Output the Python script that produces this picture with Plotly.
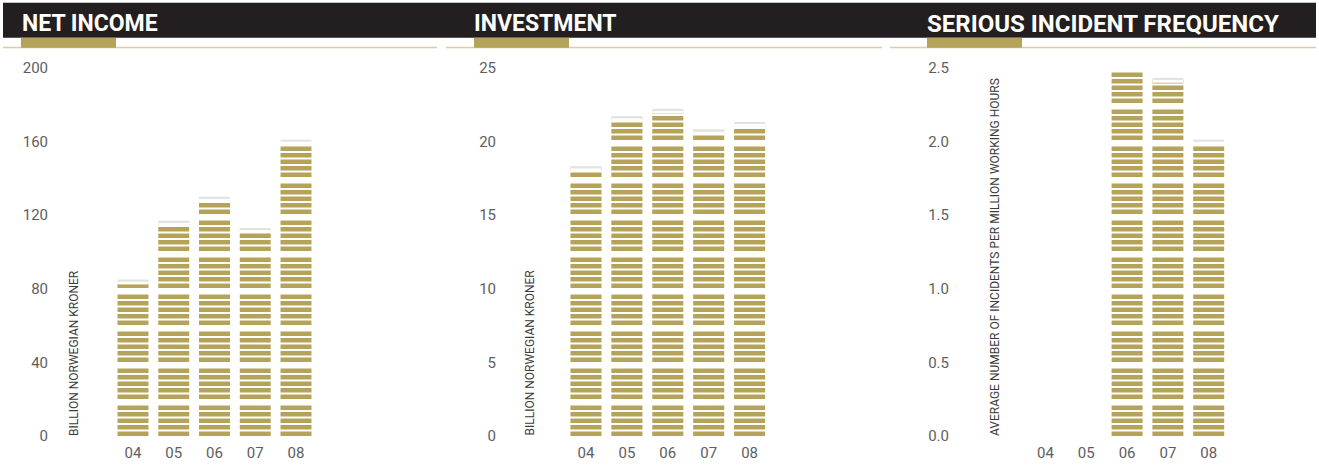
import plotly.graph_objects as go

# ---- data ----
years = ["04", "05", "06", "07", "08"]
net_income = [84, 116, 129, 112, 160]           # billion NOK
investment = [18.2, 21.6, 22.1, 20.7, 21.2]     # billion NOK
incident_freq = [None, None, 2.51, 2.42, 2.00]  # per million working hours

titles = ["NET INCOME", "INVESTMENT", "SERIOUS INCIDENT FREQUENCY"]
axis_titles = ["BILLION NORWEGIAN KRONER", "BILLION NORWEGIAN KRONER",
               "AVERAGE NUMBER OF INCIDENTS PER MILLION WORKING HOURS"]
y_ticks = [[0, 40, 80, 120, 160, 200], [0, 5, 10, 15, 20, 25], [0, 0.5, 1.0, 1.5, 2.0, 2.5]]
y_ticktext = [["0", "40", "80", "120", "160", "200"], ["0", "5", "10", "15", "20", "25"],
              ["0.0", "0.5", "1.0", "1.5", "2.0", "2.5"]]
y_max = [200, 25, 2.5]
series = [net_income, investment, incident_freq]

# ---- style / layout ----
W, H = 1319, 465
GOLD = "#b5a35a"
PALE = "#d8cfa6"
DARK = "#231f20"
TICK_COL = "#5e5e5e"
FONT = "Roboto"

panels = [
    dict(L=52, R=437, c0=133, s=40.75, tx=20, tsize=23, tab=(21, 116), line=(3, 437), atx=74),
    dict(L=500, R=881, c0=586, s=40.9, tx=472, tsize=23, tab=(474, 569), line=(446, 882), atx=529.5),
    dict(L=953, R=1316, c0=1045.5, s=40.8, tx=925, tsize=24, tab=(927, 1022), line=(890, 1316), atx=995),
]
y_top_px, y_bot_px = 68, 436
plot_h = y_bot_px - y_top_px
bar_w = 0.76

PERIOD_PX = 37.0
STRIPE_PX = 4.6
GAP_PX = 1.9

fig = go.Figure()
shapes = []
annotations = []

def px_x(p):
    return p / W

def px_y(p):
    return (H - p) / H

for k, pnl in enumerate(panels):
    xa = "x" if k == 0 else f"x{k+1}"
    ya = "y" if k == 0 else f"y{k+1}"
    vals = series[k]
    upp = y_max[k] / plot_h
    xs = list(range(len(years)))

    fig.add_trace(go.Bar(x=xs, y=vals, width=bar_w, marker=dict(color=GOLD, line=dict(width=0)),
                         xaxis=xa, yaxis=ya, showlegend=False, hoverinfo="skip"))

    x_lo, x_hi = -0.6, len(years) - 0.4
    inner_x, inner_y, outer_x, outer_y = [], [], [], []
    period = PERIOD_PX * upp
    n_periods = int(y_max[k] / period) + 2
    grp_top = 5 * STRIPE_PX + 4 * GAP_PX
    for p in range(n_periods):
        base = p * period
        for i in range(4):
            yc = base + ((i + 1) * STRIPE_PX + i * GAP_PX + GAP_PX / 2) * upp
            inner_x += [x_lo, x_hi, None]
            inner_y += [yc, yc, None]
        yc = base + (grp_top + (PERIOD_PX - grp_top) / 2) * upp
        outer_x += [x_lo, x_hi, None]
        outer_y += [yc, yc, None]
    fig.add_trace(go.Scatter(x=inner_x, y=inner_y, mode="lines", line=dict(color="white", width=GAP_PX),
                             xaxis=xa, yaxis=ya, showlegend=False, hoverinfo="skip"))
    fig.add_trace(go.Scatter(x=outer_x, y=outer_y, mode="lines",
                             line=dict(color="white", width=PERIOD_PX - grp_top),
                             xaxis=xa, yaxis=ya, showlegend=False, hoverinfo="skip"))

    cw_x, cw_y, cg_x, cg_y = [], [], [], []
    for i, v in enumerate(vals):
        if v is None:
            continue
        cw_x += [i - bar_w / 2, i + bar_w / 2, None]
        cw_y += [v - 1.5 * upp, v - 1.5 * upp, None]
        cg_x += [i - bar_w / 2, i + bar_w / 2, None]
        cg_y += [v + 0.9 * upp, v + 0.9 * upp, None]
    fig.add_trace(go.Scatter(x=cw_x, y=cw_y, mode="lines", line=dict(color="white", width=3),
                             xaxis=xa, yaxis=ya, showlegend=False, hoverinfo="skip"))
    fig.add_trace(go.Scatter(x=cg_x, y=cg_y, mode="lines", line=dict(color="#e2e2e2", width=2),
                             xaxis=xa, yaxis=ya, showlegend=False, hoverinfo="skip"))

    rng = [(pnl["L"] - pnl["c0"]) / pnl["s"], (pnl["R"] - pnl["c0"]) / pnl["s"]]
    xkey = "xaxis" if k == 0 else f"xaxis{k+1}"
    ykey = "yaxis" if k == 0 else f"yaxis{k+1}"
    fig.layout[xkey] = dict(domain=[px_x(pnl["L"]), px_x(pnl["R"])], range=rng, anchor=ya,
                            tickvals=xs, ticktext=years, showgrid=False, zeroline=False,
                            showline=False, ticks="", ticklabelstandoff=6, automargin=False,
                            tickfont=dict(family=FONT, size=15, color=TICK_COL), fixedrange=True)
    fig.layout[ykey] = dict(domain=[px_y(y_bot_px), px_y(y_top_px)], range=[0, y_max[k]], anchor=xa,
                            tickvals=y_ticks[k], ticktext=y_ticktext[k], showgrid=False, zeroline=False,
                            showline=False, ticks="", ticklabelstandoff=3, automargin=False,
                            tickfont=dict(family=FONT, size=15, color=TICK_COL), fixedrange=True)

    shapes.append(dict(type="line", xref="paper", yref="paper", x0=px_x(pnl["line"][0]), x1=px_x(pnl["line"][1]),
                       y0=px_y(47.5), y1=px_y(47.5), line=dict(color=PALE, width=1.6)))
    shapes.append(dict(type="rect", xref="paper", yref="paper", x0=px_x(pnl["tab"][0]), x1=px_x(pnl["tab"][1]),
                       y0=px_y(47.7), y1=px_y(37.7), fillcolor=GOLD, line=dict(width=0)))
    annotations.append(dict(text=titles[k], xref="paper", yref="paper", x=px_x(pnl["tx"]), y=px_y(23.8),
                            xanchor="left", yanchor="middle", showarrow=False,
                            font=dict(family=FONT, size=pnl["tsize"], color="white", weight="bold")))
    annotations.append(dict(text=axis_titles[k], xref="paper", yref="paper", x=px_x(pnl["atx"]), y=px_y(438),
                            xanchor="center", yanchor="bottom", textangle=-90, showarrow=False,
                            font=dict(family=FONT, size=12, color="#3a3a3a")))

shapes.insert(0, dict(type="rect", xref="paper", yref="paper", x0=px_x(3), x1=px_x(1316),
                      y0=px_y(37.7), y1=px_y(2.7), fillcolor=DARK, line=dict(width=0)))

fig.update_layout(width=W, height=H, margin=dict(l=0, r=0, t=0, b=0, pad=0, autoexpand=False),
                  paper_bgcolor="white", plot_bgcolor="white", barmode="overlay",
                  shapes=shapes, annotations=annotations, showlegend=False)

fig.write_html("out.html", config={"displayModeBar": False},
               post_script="document.body.style.margin='0';document.body.style.overflow='hidden';")
